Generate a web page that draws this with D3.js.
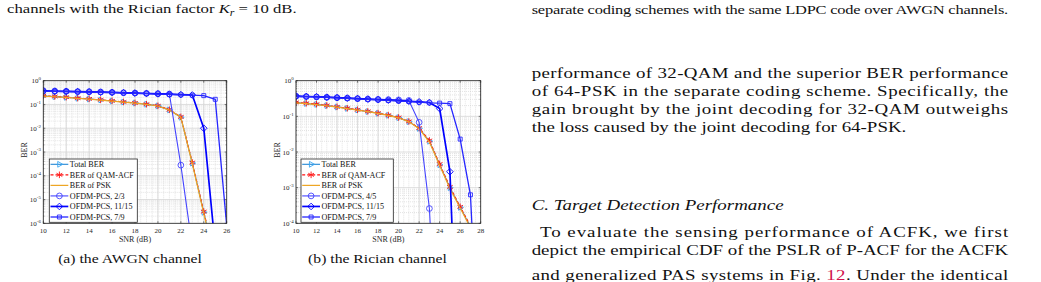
<!DOCTYPE html>
<html>
<head>
<meta charset="utf-8">
<script src="https://cdn.jsdelivr.net/npm/d3@7"></script>
<style>
  html, body { margin: 0; padding: 0; background: #fff; }
  svg { display: block; }
</style>
</head>
<body>
<svg width="1041" height="282"></svg>
<script>
// ---------- data: (a) AWGN channel ----------
const snrAwgn = [10, 11, 12, 13, 14, 15, 16, 17, 18, 19, 20, 21, 22, 23, 24, 25, 26];
const totalAwgn = [0.228, 0.214, 0.200, 0.182, 0.170, 0.155, 0.140, 0.127, 0.115, 0.102, 0.087, 0.059, 0.029, 3.4e-4, 2.9e-6, 2.5e-8];
const qamAwgn   = [0.232, 0.217, 0.203, 0.185, 0.172, 0.157, 0.142, 0.128, 0.116, 0.103, 0.088, 0.060, 0.030, 3.6e-4, 3.1e-6, 2.8e-8];
const pskAwgn   = [0.225, 0.211, 0.198, 0.180, 0.168, 0.153, 0.139, 0.126, 0.114, 0.101, 0.086, 0.058, 0.029, 3.2e-4, 2.6e-6, 2.2e-8];
const pcs23Awgn   = [0.38, 0.37, 0.36, 0.35, 0.345, 0.335, 0.325, 0.315, 0.305, 0.295, 0.285, 0.275, 2.8e-4, 1e-7];
const pcs1115Awgn = [0.37, 0.36, 0.355, 0.345, 0.34, 0.33, 0.32, 0.31, 0.30, 0.29, 0.28, 0.27, 0.26, 0.25, 0.01, 1e-7];
const pcs79Awgn   = [0.36, 0.355, 0.35, 0.34, 0.335, 0.325, 0.315, 0.305, 0.295, 0.285, 0.275, 0.265, 0.255, 0.245, 0.235, 0.165, 8e-7];
const namesAwgn = ["Total BER", "BER of QAM-ACF", "BER of PSK", "OFDM-PCS, 2/3", "OFDM-PCS, 11/15", "OFDM-PCS, 7/9"];

// ---------- data: (b) Rician channel ----------
const snrRice = [10, 11, 12, 13, 14, 15, 16, 17, 18, 19, 20, 21, 22, 23, 24, 25, 26, 27, 28];
const totalRice = [0.242, 0.230, 0.217, 0.200, 0.183, 0.167, 0.151, 0.136, 0.122, 0.107, 0.092, 0.071, 0.046, 0.020, 4.4e-3, 1.0e-3, 2.8e-4, 8e-5, 2e-5];
const qamRice   = [0.246, 0.233, 0.220, 0.203, 0.185, 0.169, 0.153, 0.138, 0.123, 0.108, 0.093, 0.072, 0.047, 0.021, 4.6e-3, 1.05e-3, 2.9e-4, 8.5e-5, 2.2e-5];
const pskRice   = [0.239, 0.227, 0.214, 0.198, 0.181, 0.165, 0.150, 0.135, 0.121, 0.106, 0.091, 0.070, 0.045, 0.019, 4.2e-3, 0.95e-3, 2.7e-4, 7.5e-5, 1.9e-5];
const pcs45Rice   = [0.37, 0.36, 0.35, 0.34, 0.335, 0.325, 0.315, 0.305, 0.30, 0.295, 0.29, 0.28, 0.068, 2.6e-4, 1e-9];
const pcs1115Rice = [0.37, 0.36, 0.355, 0.345, 0.335, 0.325, 0.315, 0.305, 0.295, 0.285, 0.275, 0.265, 0.255, 0.245, 0.165, 2.8e-3, 1e-10];
const pcs79Rice   = [0.36, 0.355, 0.35, 0.34, 0.33, 0.32, 0.31, 0.30, 0.29, 0.28, 0.27, 0.26, 0.25, 0.24, 0.235, 0.227, 0.023, 6.3e-4, 1e-9];
const namesRice = ["Total BER", "BER of QAM-ACF", "BER of PSK", "OFDM-PCS, 4/5", "OFDM-PCS, 11/15", "OFDM-PCS, 7/9"];

const xTicksAwgn = [10, 12, 14, 16, 18, 20, 22, 24, 26];
const xTicksRice = [10, 12, 14, 16, 18, 20, 22, 24, 26, 28];

// ---------- page text ----------
const capLeft = ["channels with the Rician factor ", "K", "r", " = 10 dB."];
const capRight = "separate coding schemes with the same LDPC code over AWGN channels.";
const paraOne = [
  "performance of 32-QAM and the superior BER performance",
  "of 64-PSK in the separate coding scheme. Specifically, the",
  "gain brought by the joint decoding for 32-QAM outweighs",
  "the loss caused by the joint decoding for 64-PSK."
];
const heading = "C. Target Detection Performance";
const paraTwo = [
  "To evaluate the sensing performance of ACFK, we first",
  "depict the empirical CDF of the PSLR of P-ACF for the ACFK"
];
const lastLine = ["and generalized PAS systems in Fig. ", "12", ". Under the identical"];
const subCaps = ["(a) the AWGN channel", "(b) the Rician channel"];

// series styles (same order in both plots)
const styles = [
  { color: "#2387d4", mark: "#38a6f2", dash: null, marker: "triR", width: 1.1 },
  { color: "#ff1010", mark: "#ff1010", dash: "3,2", marker: "ast", width: 1.1 },
  { color: "#eea624", mark: null, dash: null, marker: null, width: 1.2 },
  { color: "#4444ff", mark: "#4444ff", dash: null, marker: "circle", width: 1.1 },
  { color: "#0000ff", mark: "#0000ff", dash: null, marker: "diamond", width: 1.7 },
  { color: "#2626ff", mark: "#2626ff", dash: null, marker: "square", width: 1.3 }
];

const serif = "'Liberation Serif', 'Times New Roman', serif";
const SX = 1.245;               // the page text is stretched sideways
const svg = d3.select("svg");

function markerPath(kind) {
  if (kind === "triR") return d3.symbol(d3.symbolTriangle2, 24)();
  if (kind === "ast") return d3.symbol(d3.symbolAsterisk || d3.symbolCross, 30)();
  if (kind === "circle") return d3.symbol(d3.symbolCircle, 26)();
  if (kind === "diamond") return d3.symbol(d3.symbolDiamond2, 28)();
  if (kind === "square") return d3.symbol(d3.symbolSquare2, 20)();
  return null;
}

function chartText(g, x, y, size, anchor) {
  return g.append("text")
    .attr("x", x).attr("y", y)
    .attr("text-anchor", anchor).attr("font-family", serif)
    .attr("font-size", size).attr("fill", "#262626");
}

function drawChart(id, box, xDomain, xTicks, yDomain, series, names, legendBox) {
  const g = svg.append("g");
  const x = d3.scaleLinear().domain(xDomain).range([box.left, box.right]);
  const y = d3.scaleLog().domain(yDomain).range([box.bottom, box.top]);

  const xMinor = d3.range(xDomain[0], xDomain[1] + 1e-9, 0.5);
  const expLo = Math.round(Math.log10(yDomain[0])), expHi = Math.round(Math.log10(yDomain[1]));
  const yMinor = [];
  for (let e = expLo; e < expHi; e++) for (let m = 2; m <= 9; m++) yMinor.push(m * Math.pow(10, e));
  const yMajor = d3.range(expLo, expHi + 1).map(e => Math.pow(10, e));

  // minor grid (dotted)
  g.selectAll(".xm").data(xMinor).join("line")
    .attr("x1", d => x(d)).attr("x2", d => x(d))
    .attr("y1", box.top).attr("y2", box.bottom)
    .attr("stroke", "#c8c8c8").attr("stroke-width", 0.5).attr("stroke-dasharray", "1,1");
  g.selectAll(".ym").data(yMinor).join("line")
    .attr("x1", box.left).attr("x2", box.right)
    .attr("y1", d => y(d)).attr("y2", d => y(d))
    .attr("stroke", "#c8c8c8").attr("stroke-width", 0.5).attr("stroke-dasharray", "1,1");
  // major grid
  g.selectAll(".xg").data(xTicks).join("line")
    .attr("x1", d => x(d)).attr("x2", d => x(d))
    .attr("y1", box.top).attr("y2", box.bottom)
    .attr("stroke", "#d6d6d6").attr("stroke-width", 0.8);
  g.selectAll(".yg").data(yMajor).join("line")
    .attr("x1", box.left).attr("x2", box.right)
    .attr("y1", d => y(d)).attr("y2", d => y(d))
    .attr("stroke", "#d6d6d6").attr("stroke-width", 0.8);

  // curves, clipped to the axes
  svg.append("clipPath").attr("id", id)
    .append("rect").attr("x", box.left).attr("y", box.top)
    .attr("width", box.right - box.left).attr("height", box.bottom - box.top);
  const plot = g.append("g").attr("clip-path", `url(#${id})`);
  const line = d3.line().x(d => x(d[0])).y(d => y(d[1]));

  series.forEach((s, i) => {
    const st = styles[i];
    const pts = s.ber.map((v, k) => [s.snr[k], v]);
    plot.append("path").datum(pts)
      .attr("d", line).attr("fill", "none")
      .attr("stroke", st.color).attr("stroke-width", st.width)
      .attr("stroke-dasharray", st.dash);
    if (st.marker) {
      const p = markerPath(st.marker);
      plot.selectAll(null).data(pts.filter(d => d[1] >= yDomain[0])).join("path")
        .attr("d", p)
        .attr("transform", d => `translate(${x(d[0])},${y(d[1])})` + (st.marker === "triR" ? " rotate(90)" : ""))
        .attr("fill", "none").attr("stroke", st.mark).attr("stroke-width", 0.9);
    }
  });

  // box and inward ticks on all four sides
  g.append("rect").attr("x", box.left).attr("y", box.top)
    .attr("width", box.right - box.left).attr("height", box.bottom - box.top)
    .attr("fill", "none").attr("stroke", "#262626").attr("stroke-width", 0.8);
  const tk = 2;
  xTicks.forEach(t => {
    g.append("line").attr("x1", x(t)).attr("x2", x(t)).attr("y1", box.bottom).attr("y2", box.bottom - tk).attr("stroke", "#262626").attr("stroke-width", 0.6);
    g.append("line").attr("x1", x(t)).attr("x2", x(t)).attr("y1", box.top).attr("y2", box.top + tk).attr("stroke", "#262626").attr("stroke-width", 0.6);
  });
  yMajor.forEach(t => {
    g.append("line").attr("x1", box.left).attr("x2", box.left + tk).attr("y1", y(t)).attr("y2", y(t)).attr("stroke", "#262626").attr("stroke-width", 0.6);
    g.append("line").attr("x1", box.right).attr("x2", box.right - tk).attr("y1", y(t)).attr("y2", y(t)).attr("stroke", "#262626").attr("stroke-width", 0.6);
  });
  yMinor.forEach(t => {
    g.append("line").attr("x1", box.left).attr("x2", box.left + 1.2).attr("y1", y(t)).attr("y2", y(t)).attr("stroke", "#262626").attr("stroke-width", 0.4);
    g.append("line").attr("x1", box.right).attr("x2", box.right - 1.2).attr("y1", y(t)).attr("y2", y(t)).attr("stroke", "#262626").attr("stroke-width", 0.4);
  });

  // tick labels
  xTicks.forEach(t => chartText(g, x(t), box.bottom + 9.8, 7, "middle").text(t));
  yMajor.forEach(t => {
    const e = Math.round(Math.log10(t));
    const tx = chartText(g, box.left - 2.4, y(t) + 2.5, 7, "end");
    tx.append("tspan").text("10");
    tx.append("tspan").attr("dy", -3.2).attr("font-size", 4.9).text(e);
  });

  // axis labels
  chartText(g, (box.left + box.right) / 2, box.bottom + 18.2, 8, "middle").text("SNR (dB)");
  g.append("text")
    .attr("transform", `translate(${box.left - 16.5},${(box.top + box.bottom) / 2 - 2}) rotate(-90)`)
    .attr("text-anchor", "middle").attr("font-family", serif).attr("font-size", 8)
    .attr("fill", "#262626").text("BER");

  // legend
  const lg = g.append("g");
  lg.append("rect").attr("x", legendBox.x).attr("y", legendBox.y)
    .attr("width", legendBox.w).attr("height", legendBox.h)
    .attr("fill", "#fff").attr("stroke", "#262626").attr("stroke-width", 0.8);
  const row = d3.scalePoint().domain(names).range([legendBox.y + 5.3, legendBox.y + legendBox.h - 5.3]);
  names.forEach((n, i) => {
    const st = styles[i];
    const yy = row(n);
    const x0 = legendBox.x + 1.2, x1 = legendBox.x + 19;
    lg.append("line").attr("x1", x0).attr("x2", x1).attr("y1", yy).attr("y2", yy)
      .attr("stroke", st.color).attr("stroke-width", st.width).attr("stroke-dasharray", st.dash);
    if (st.marker) {
      lg.append("path").attr("d", markerPath(st.marker))
        .attr("transform", `translate(${(x0 + x1) / 2},${yy})` + (st.marker === "triR" ? " rotate(90)" : ""))
        .attr("fill", "none").attr("stroke", st.mark).attr("stroke-width", 0.9);
    }
    chartText(lg, x1 + 1.5, yy + 2.8, 8.1, "start").attr("fill", "#111").text(n);
  });
}

const seriesAwgn = [totalAwgn, qamAwgn, pskAwgn, pcs23Awgn, pcs1115Awgn, pcs79Awgn]
  .map(b => ({ snr: snrAwgn.slice(0, b.length), ber: b }));
const seriesRice = [totalRice, qamRice, pskRice, pcs45Rice, pcs1115Rice, pcs79Rice]
  .map(b => ({ snr: snrRice.slice(0, b.length), ber: b }));

drawChart("clipA", { left: 43.3, right: 226.7, top: 80.7, bottom: 223.3 }, [10, 26], xTicksAwgn, [1e-6, 1],
  seriesAwgn, namesAwgn, { x: 49.3, y: 159, w: 88, h: 63.3 });
drawChart("clipB", { left: 296, right: 480.7, top: 80.7, bottom: 223.3 }, [10, 28], xTicksRice, [1e-4, 1],
  seriesRice, namesRice, { x: 301, y: 159, w: 92.3, h: 63.3 });

// ---------- surrounding page text ----------
// x,y: start and baseline; opts.justify: full line width to spread the words over
function textLine(x, y, size, parts, opts = {}) {
  const t = svg.append("text")
    .attr("transform", `translate(${x},${y}) scale(${SX},1)`)
    .attr("font-family", serif).attr("font-size", size).attr("fill", "#111")
    .attr("text-anchor", opts.anchor || "start");
  if (opts.italic) t.attr("font-style", "italic");
  if (typeof parts === "string") t.text(parts);
  else parts.forEach(p => {
    const s = t.append("tspan").text(p.t);
    if (p.italic) s.attr("font-style", "italic");
    if (p.fill) s.attr("fill", p.fill);
    if (p.dy) s.attr("dy", p.dy);
    if (p.size) s.attr("font-size", p.size);
  });
  if (opts.justify) t.attr("textLength", opts.justify / SX).attr("lengthAdjust", "spacing");
  return t;
}

const colX = 531.7, colW = 476.5, body = 15.2, lead = 18.2;

textLine(7, 13.2, 13.4, [
  { t: capLeft[0] }, { t: capLeft[1], italic: true },
  { t: capLeft[2], italic: true, dy: 2.4, size: 9.6 }, { t: capLeft[3], dy: -2.4 }
]);
textLine(colX, 13.8, 13.2, capRight, { justify: colW });

paraOne.forEach((s, i) => {
  const last = i === paraOne.length - 1;
  textLine(colX, 77.5 + i * lead, body, s, last ? {} : { justify: colW });
});
textLine(colX, 209.5, body, heading, { italic: true });
textLine(540, 237, body, paraTwo[0], { justify: colX + colW - 540 });
textLine(colX, 237 + lead, body, paraTwo[1], { justify: colW });
textLine(colX, 279.5, body, [
  { t: lastLine[0] }, { t: lastLine[1], fill: "#d0104c" }, { t: lastLine[2] }
], { justify: colW });

// sub-figure captions
textLine(130, 263, 12.6, subCaps[0], { anchor: "middle" });
textLine(377.5, 263, 12.6, subCaps[1], { anchor: "middle" });
</script>
</body>
</html>
